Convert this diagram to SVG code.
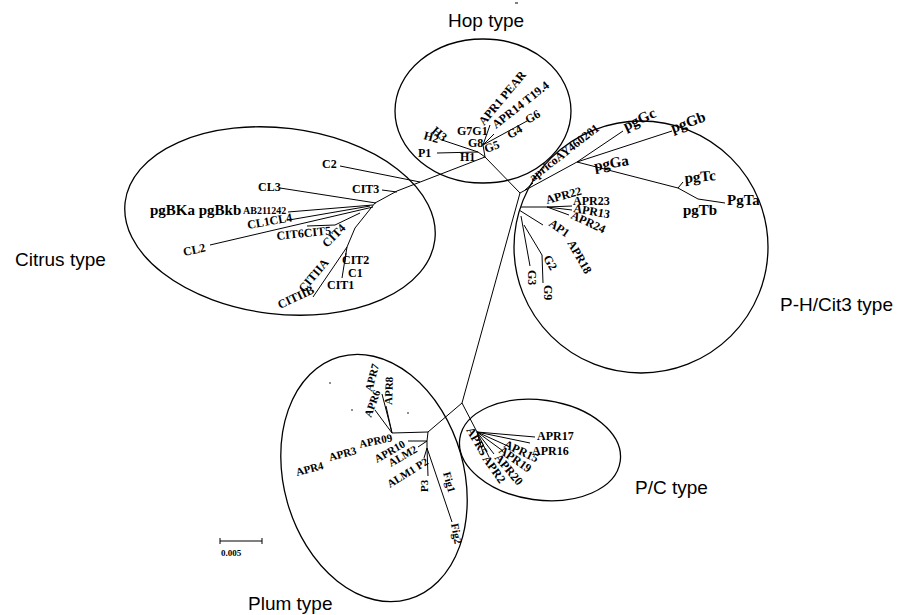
<svg xmlns="http://www.w3.org/2000/svg" width="903" height="615" viewBox="0 0 903 615">
<style>
.br{stroke:#000;stroke-width:1;fill:none}
.el{fill:none;stroke:#000;stroke-width:1.3}
.t{font-family:"Liberation Serif","Times New Roman",serif;font-weight:bold;font-size:12px;fill:#000}
.s{font-size:11px}
.big{font-size:15px}
.L{font-family:"Liberation Sans",Arial,sans-serif;font-size:19px;fill:#000}
</style>
<rect width="903" height="615" fill="#fff"/>

<!-- cluster outlines -->
<g id="outlines">
<ellipse id="hop-outline" class="el" cx="483" cy="111" rx="88" ry="72"/>
<ellipse id="citrus-outline" class="el" cx="280" cy="221" rx="156" ry="93" transform="rotate(7 280 221)"/>
<ellipse id="ph-outline" class="el" cx="641" cy="247" rx="127" ry="126"/>
<ellipse id="plum-outline" class="el" cx="374" cy="478" rx="90" ry="126" transform="rotate(-16 374 478)"/>
<ellipse id="pc-outline" class="el" cx="540" cy="450" rx="81" ry="50" transform="rotate(8 540 450)"/>
</g>

<!-- branches -->
<g id="connectors" class="br">
<!-- trunk -->
<path d="M462 403 L520 193 L485 157"/>
<path d="M485 157 L397 191 L375 203 L355 228 L347 247"/>
<!-- hop -->
<path d="M485 157 L478 152 L442 140 M478 152 L437 153 M485 157 L483 145 L527 121 M483 145 L490 125 M483 145 L494 134"/>
<!-- citrus -->
<path d="M340 166 L420 182"/>
<path d="M382 190 L397 192"/>
<path d="M280 188 L376 203"/>
<path d="M288 212 L373 205"/>
<path d="M289 220 L370 206"/>
<path d="M210 245 L373 207"/>
<path d="M307 226 L335 225 L360 213"/>
<path d="M347 247 L342 278 M346 253 L345 262"/>
<path d="M347 247 L313 297"/>
<!-- P-H / Cit3 -->
<path d="M520 193 L577 162 L623 131 M577 162 L672 131 M577 162 L678 188 L683 182 M678 188 L698 199 L725 203"/>
<path d="M525 190 L533 183"/>
<path d="M521 207 L547 207 L572 206 M547 207 L572 210 M547 207 L569 215"/>
<path d="M519 210 L543 225"/>
<path d="M521 216 L530 266"/>
<path d="M524 225 L542 255 L543 283"/>
<!-- plum -->
<path d="M462 403 L428 432 L392 433 M392 433 L375 410 M392 433 L382 394 M392 433 L386 406"/>
<path d="M428 432 L427 441 L408 441 M427 441 L418 447 M427 441 L427 448 L424 458 M427 448 L428 476 M427 448 L452 522"/>
<!-- P/C -->
<path d="M462 403 L477 432 L535 437 M477 432 L530 443 M477 432 L510 447 M477 432 L503 451 M477 432 L494 454 M477 432 L489 457 M477 432 L483 453"/>
</g>

<g id="hop-type">
<text class="L" x="448" y="27">Hop type</text>
<text class="t" transform="translate(484,126) rotate(-50)">APR1 PEAR</text>
<text class="t" transform="translate(496,129) rotate(-38)">APR14 T19.4</text>
<text class="t" transform="translate(528,124) rotate(-30)">G6</text>
<text class="t" transform="translate(510,139) rotate(-30)">G4</text>
<text class="t" transform="translate(486,153) rotate(-20)">G5</text>
<text class="t" x="468" y="147">G8</text>
<text class="t" x="457" y="135">G7G1</text>
<text class="t" transform="translate(431,132) rotate(40)">H3</text>
<text class="t" transform="translate(423,139) rotate(15)">H2</text>
<text class="t" x="418" y="157">P1</text>
<text class="t" x="460" y="161">H1</text>
</g>

<g id="citrus-type">
<text class="L" x="15" y="266">Citrus type</text>
<text class="t" x="322" y="168">C2</text>
<text class="t" x="258" y="191">CL3</text>
<text class="t" x="352" y="193">CIT3</text>
<text class="t big" x="150" y="215">pgBKa pgBkb</text>
<text class="t" style="font-size:10px" x="243" y="214">AB211242</text>
<text class="t" transform="translate(248,229) rotate(-10)">CL1CL4</text>
<text class="t" transform="translate(184,256) rotate(-12)">CL2</text>
<text class="t" transform="translate(277,240) rotate(-6)">CIT6CIT5</text>
<text class="t" transform="translate(327,248) rotate(-45)">CIT4</text>
<text class="t" x="342" y="264">CIT2</text>
<text class="t" x="348" y="277">C1</text>
<text class="t" x="327" y="289">CIT1</text>
<text class="t" transform="translate(304,293) rotate(-50)">CITIIA</text>
<text class="t" transform="translate(280,309) rotate(-25)">CITIIB</text>
</g>

<g id="ph-cit3-type">
<text class="L" x="780" y="311">P-H/Cit3 type</text>
<text class="t" transform="translate(533,182) rotate(-38)">apricoAY460201</text>
<text class="t big" transform="translate(595,171) rotate(-10)">pgGa</text>
<text class="t big" transform="translate(626,131) rotate(-25)">pgGc</text>
<text class="t big" transform="translate(673,133) rotate(-20)">pgGb</text>
<text class="t big" transform="translate(685,183) rotate(-5)">pgTc</text>
<text class="t big" x="683" y="215">pgTb</text>
<text class="t big" x="727" y="205">PgTa</text>
<text class="t" transform="translate(547,204) rotate(-15)">APR22</text>
<text class="t" x="573" y="205">APR23</text>
<text class="t" transform="translate(573,212) rotate(10)">APR13</text>
<text class="t" transform="translate(570,218) rotate(25)">APR24</text>
<text class="t" transform="translate(548,225) rotate(35)">AP1</text>
<text class="t" transform="translate(567,243) rotate(60)">APR18</text>
<text class="t" transform="translate(543,258) rotate(60)">G2</text>
<text class="t" transform="translate(528,270) rotate(90)">G3</text>
<text class="t" transform="translate(544,285) rotate(90)">G9</text>
</g>

<g id="plum-type">
<text class="L" x="248" y="610">Plum type</text>
<text class="t s" transform="translate(372,392) rotate(-75)">APR7</text>
<text class="t s" transform="translate(371,418) rotate(-70)">APR6</text>
<text class="t s" transform="translate(392,405) rotate(-88)">APR8</text>
<text class="t s" transform="translate(360,448) rotate(-12)">APR09</text>
<text class="t s" transform="translate(330,461) rotate(-15)">APR3</text>
<text class="t s" transform="translate(297,476) rotate(-15)">APR4</text>
<text class="t s" transform="translate(377,463) rotate(-30)">APR10</text>
<text class="t s" transform="translate(391,467) rotate(-30)">ALM2</text>
<text class="t s" transform="translate(390,488) rotate(-32)">ALM1 P2</text>
<text class="t s" transform="translate(428,492) rotate(-90)">P3</text>
<text class="t s" transform="translate(443,473) rotate(75)">Fig1</text>
<text class="t s" transform="translate(451,524) rotate(80)">Fig2</text>
<circle cx="330" cy="383" r="0.8"/>
<circle cx="352" cy="410" r="0.8"/>
<circle cx="408" cy="413" r="0.8"/>
</g>

<g id="pc-type">
<text class="L" x="635" y="494">P/C type</text>
<text class="t" x="537" y="440">APR17</text>
<text class="t" x="532" y="455">APR16</text>
<text class="t" transform="translate(503,447) rotate(25)">APR15</text>
<text class="t" transform="translate(498,452) rotate(35)">APR19</text>
<text class="t" transform="translate(494,458) rotate(50)">APR20</text>
<text class="t" transform="translate(482,459) rotate(55)">APR2</text>
<text class="t" transform="translate(466,430) rotate(60)">APR5</text>
</g>

<g id="scale-bar">
<path class="br" d="M220 541 L262 541 M220 538 L220 544 M262 538 L262 544"/>
<text class="t" style="font-size:9px" x="221" y="556">0.005</text>
</g>
<path class="br" d="M515 3 L518 3"/>
</svg>
